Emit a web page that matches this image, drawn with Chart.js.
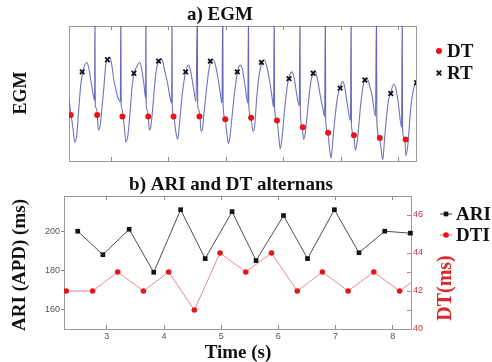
<!DOCTYPE html>
<html>
<head>
<meta charset="utf-8">
<script src="https://cdn.jsdelivr.net/npm/chart.js@4.4.1/dist/chart.umd.min.js"></script>
<style>
body{margin:0;background:#fff;}
#wrap{position:relative;width:492px;height:362px;}
canvas{position:absolute;left:0;}
#egmChart{top:0;}
#ariChart{top:170px;}
</style>
</head>
<body>
<div id="wrap">
<canvas id="egmChart" width="492" height="170"></canvas>
<canvas id="ariChart" width="492" height="192"></canvas>
</div>
<script>

// beat times (s), shared by both panels
var dtTime = [2.29, 2.75, 3.19, 3.64, 4.08, 4.53, 4.98, 5.43, 5.88, 6.33, 6.77, 7.22, 7.67, 8.12];
var rtTime = [2.49, 2.93, 3.39, 3.82, 4.29, 4.72, 5.19, 5.61, 6.09, 6.51, 6.98, 7.41, 7.86, 8.31];

// EGM level at the DT / RT marks (arbitrary units)
var dtEgm = [34, 34, 33, 33, 33, 33, 31, 32, 30, 25, 21, 19, 17, 16];
var rtEgm = [66, 75, 65, 74, 66, 74, 66, 73, 61, 65, 54, 60, 50, 58];

// panel b
var ariValue = [200, 188, 201, 179, 211, 186, 210, 185, 208, 186, 211, 189, 200, 199];
var dtiTime = [2.29, 2.75, 3.19, 3.64, 4.08, 4.53, 4.98, 5.43, 5.88, 6.33, 6.77, 7.22, 7.67, 8.12, 8.57];
var dtiValue = [42, 42, 43, 42, 43, 41, 44, 43, 44, 42, 43, 42, 43, 42, 43];

// EGM trace
var egmTime = [
 2.263,2.290,2.333,2.359,2.394,2.429,2.464,2.499,2.534,2.569,2.604,2.639,2.674,2.706,2.712,2.717,
 2.735,2.752,2.770,2.804,2.831,2.866,2.900,2.935,2.970,3.005,3.040,3.075,3.110,3.154,3.162,3.168,
 3.180,3.202,3.232,3.250,3.285,3.319,3.354,3.389,3.441,3.494,3.529,3.564,3.593,3.599,3.604,
 3.616,3.639,3.660,3.686,3.721,3.756,3.791,3.826,3.861,3.895,3.930,3.974,4.018,4.047,4.052,4.058,
 4.082,4.122,4.152,4.175,4.201,4.236,4.291,4.337,4.375,4.424,4.471,4.494,4.499,
 4.515,4.541,4.558,4.585,4.611,4.658,4.693,4.728,4.773,4.820,4.860,4.890,4.923,4.937,4.942,
 4.977,5.012,5.035,5.065,5.091,5.122,5.157,5.192,5.239,5.283,5.326,5.373,5.384,5.389,
 5.426,5.461,5.489,5.530,5.571,5.618,5.658,5.702,5.750,5.789,5.821,5.833,5.838,
 5.880,5.911,5.937,5.972,6.007,6.042,6.082,6.141,6.181,6.229,6.269,6.281,6.286,
 6.316,6.344,6.374,6.431,6.470,6.508,6.540,6.583,6.635,6.679,6.710,6.722,6.728,
 6.763,6.793,6.822,6.854,6.897,6.937,6.972,7.024,7.063,7.101,7.159,7.171,7.176,
 7.216,7.246,7.281,7.333,7.373,7.408,7.450,7.490,7.537,7.595,7.612,7.618,
 7.665,7.694,7.722,7.752,7.781,7.821,7.857,7.914,7.952,7.991,8.049,8.061,8.066,
 8.106,8.123,8.158,8.210,8.268,8.310
];
var egmValue = [
 45,36,23,14,19,38,56,66,71,73,69,60,51,45,110,42,
 39,34,23,27,38,54,71,76,77,71,60,53,47,44,110,42,
 39,33,21,14,19,34,53,64,70,73,67,57,47,110,42,
 38,33,23,26,41,59,70,74,76,73,66,58,47,43,110,41,
 33,21,16,24,36,51,66,71,67,55,44,110,42,
 38,33,22,24,36,55,67,74,75,69,60,51,43,110,41,
 31,19,13,19,30,43,56,66,71,67,55,43,110,41,
 32,22,25,48,64,73,75,70,60,49,40,110,39,
 30,18,9,19,35,50,61,66,61,48,41,110,38,
 25,16,21,45,59,65,67,61,48,39,33,110,30,
 21,10,2,16,35,48,54,59,54,43,30,110,27,
 19,8,16,40,54,60,61,56,48,33,110,29,
 17,8,1,16,30,45,50,57,53,43,25,110,23,
 16,4,12,40,55,58
];

var timeTicks = [3, 4, 5, 6, 7, 8];
var ariTicks = [160, 180, 200];
var dtTicks = [40, 41, 42, 43, 44, 45, 46, 47];
var dtTickLabels = ['40', '', '42', '', '44', '', '46', ''];


function points(xs, ys){
	var out = [];
	for (var i = 0; i < xs.length; i++) {
		out.push({x: xs[i], y: ys[i]});
	}
	return out;
}

function keepTicks(vals){
	return function(s){
		s.ticks = vals.map(function(v){ return {value: v}; });
	};
}

// fixed scale sizes so the plot boxes land where the reference has them
function fixWidth(w){ return function(s){ s.width = w; }; }
function fixHeight(h){ return function(s){ s.height = h; }; }

var serif = '"Liberation Serif", "Times New Roman", serif';
var tickFont = {family: '"Liberation Sans", Arial, sans-serif', size: 9};
var boxGray = '#9a9a9a';

// titles, rotated axis labels and legends
var panelText = {
	id: 'panelText',
	afterDraw: function(chart, args, opts){
		var ctx = chart.ctx;
		(opts.items || []).forEach(function(it){
			ctx.save();
			ctx.font = 'bold ' + (it.size || 19) + 'px ' + serif;
			ctx.fillStyle = it.color || '#111';
			ctx.textAlign = 'center';
			ctx.textBaseline = 'middle';
			ctx.translate(it.x, it.y);
			if (it.rotate) ctx.rotate(-Math.PI / 2);
			ctx.fillText(it.text, 0, 0);
			ctx.restore();
		});
		(opts.legend || []).forEach(function(lg){
			var ds = chart.data.datasets[lg.index];
			ctx.save();
			if (lg.line) {
				ctx.strokeStyle = ds.borderColor;
				ctx.lineWidth = 1;
				ctx.beginPath();
				ctx.moveTo(lg.x - 6, lg.y);
				ctx.lineTo(lg.x + 6, lg.y);
				ctx.stroke();
			}
			ctx.fillStyle = ds.pointBackgroundColor;
			ctx.strokeStyle = ds.pointBorderColor;
			ctx.lineWidth = ds.pointBorderWidth;
			Chart.helpers.drawPoint(ctx, {
				pointStyle: ds.pointStyle,
				radius: ds.pointRadius,
				borderWidth: ds.pointBorderWidth,
				rotation: 0
			}, lg.x, lg.y);
			ctx.font = 'bold 19px ' + serif;
			ctx.fillStyle = '#111';
			ctx.textAlign = 'left';
			ctx.textBaseline = 'middle';
			ctx.fillText(ds.label, lg.x + lg.gap, lg.y + 1);
			ctx.restore();
		});
	}
};

function boxAxis(extra){
	var a = {
		type: 'linear',
		ticks: {display: false},
		grid: {drawOnChartArea: false, tickLength: -4, color: '#888'},
		border: {color: boxGray}
	};
	for (var k in extra) a[k] = extra[k];
	return a;
}


// a) EGM
new Chart(document.getElementById('egmChart'), {
	type: 'scatter',
	data: {
		datasets: [{
			label: 'DT',
			data: points(dtTime, dtEgm),
			pointStyle: 'circle',
			pointRadius: 3,
			pointBackgroundColor: '#e8141a',
			pointBorderColor: '#e8141a',
			pointBorderWidth: 0,
			order: 1
		}, {
			label: 'RT',
			data: points(rtTime, rtEgm),
			pointStyle: 'crossRot',
			pointRadius: 3.2,
			pointBackgroundColor: '#111',
			pointBorderColor: '#111',
			pointBorderWidth: 1.8,
			order: 1
		}, {
			label: 'EGM',
			data: points(egmTime, egmValue),
			showLine: true,
			pointRadius: 0,
			borderWidth: 1.1,
			borderColor: '#6f74be',
			cubicInterpolationMode: 'monotone',
			segment: {
				borderColor: function(c){
					return (c.p0.parsed.y > 100 || c.p1.parsed.y > 100) ? 'rgba(62,66,168,0.8)' : undefined;
				}
			},
			order: 3
		}]
	},
	options: {
		responsive: false,
		animation: false,
		devicePixelRatio: 1,
		layout: {padding: {left: 69, right: 76, top: 26, bottom: 9}},
		plugins: {
			legend: {display: false},
			tooltip: {enabled: false},
			panelText: {
				items: [
					{text: 'a) EGM', x: 220, y: 15},
					{text: 'EGM', x: 21, y: 93, rotate: true, size: 18}
				],
				legend: [
					{index: 0, x: 439, y: 51, gap: 8},
					{index: 1, x: 439, y: 73, gap: 8}
				]
			}
		},
		scales: {
			x: boxAxis({position: 'bottom', min: 2.26, max: 8.30, afterBuildTicks: keepTicks(timeTicks), afterFit: fixHeight(0)}),
			x2: boxAxis({position: 'top', min: 2.26, max: 8.30, afterBuildTicks: keepTicks(timeTicks), afterFit: fixHeight(0)}),
			y: boxAxis({position: 'left', min: 0, max: 100, grid: {display: false}, afterFit: fixWidth(0)}),
			y2: boxAxis({position: 'right', min: 0, max: 100, grid: {display: false}, afterFit: fixWidth(0)})
		}
	},
	plugins: [panelText]
});


// b) ARI and DT alternans
new Chart(document.getElementById('ariChart'), {
	type: 'scatter',
	data: {
		datasets: [{
			label: 'ARI',
			data: points(rtTime, ariValue),
			yAxisID: 'y',
			showLine: true,
			borderColor: '#3a3a3a',
			borderWidth: 0.9,
			pointStyle: 'rect',
			pointRadius: 3.3,
			pointBackgroundColor: '#111',
			pointBorderColor: '#111',
			pointBorderWidth: 0,
			clip: 6
		}, {
			label: 'DTI',
			data: points(dtiTime, dtiValue),
			yAxisID: 'y1',
			showLine: true,
			borderColor: 'rgba(218,112,112,0.9)',
			borderWidth: 0.9,
			pointStyle: 'circle',
			pointRadius: 2.8,
			pointBackgroundColor: '#e3161c',
			pointBorderColor: '#e3161c',
			pointBorderWidth: 0
		}]
	},
	options: {
		responsive: false,
		animation: false,
		devicePixelRatio: 1,
		layout: {padding: {left: 34, right: 51, top: 26, bottom: 13}},
		plugins: {
			legend: {display: false},
			tooltip: {enabled: false},
			panelText: {
				items: [
					{text: 'b) ARI and DT alternans', x: 231, y: 15},
					{text: 'Time (s)', x: 238, y: 183},
					{text: 'ARI (APD) (ms)', x: 20, y: 95, rotate: true},
					{text: 'DT(ms)', x: 446, y: 118, rotate: true, size: 20, color: '#e0262b'}
				],
				legend: [
					{index: 0, x: 446, y: 44, gap: 10, line: true},
					{index: 1, x: 446, y: 65, gap: 10, line: true}
				]
			}
		},
		scales: {
			x: boxAxis({
				position: 'bottom', min: 2.25, max: 8.32,
				afterBuildTicks: keepTicks(timeTicks),
				ticks: {display: true, font: tickFont, color: '#555', padding: 6, autoSkip: false, maxRotation: 0},
				afterFit: fixHeight(20)
			}),
			x2: boxAxis({position: 'top', min: 2.25, max: 8.32, afterBuildTicks: keepTicks(timeTicks), afterFit: fixHeight(0)}),
			y: boxAxis({
				position: 'left', min: 150, max: 218,
				afterBuildTicks: keepTicks(ariTicks),
				ticks: {display: true, font: tickFont, color: '#555', padding: 1},
				grid: {drawOnChartArea: false, tickLength: 3, color: '#888'},
				afterFit: fixWidth(30)
			}),
			y1: boxAxis({
				position: 'right', min: 40, max: 47,
				afterBuildTicks: keepTicks(dtTicks),
				ticks: {
					display: true, font: tickFont, color: '#c43a3a', padding: 6, autoSkip: false,
					callback: function(v, i){ return dtTickLabels[i]; }
				},
				grid: {drawOnChartArea: false, tickLength: -4, color: '#d07a7a'},
				border: {color: '#d48484'},
				afterFit: fixWidth(30)
			})
		}
	},
	plugins: [panelText]
});

</script>
</body>
</html>
